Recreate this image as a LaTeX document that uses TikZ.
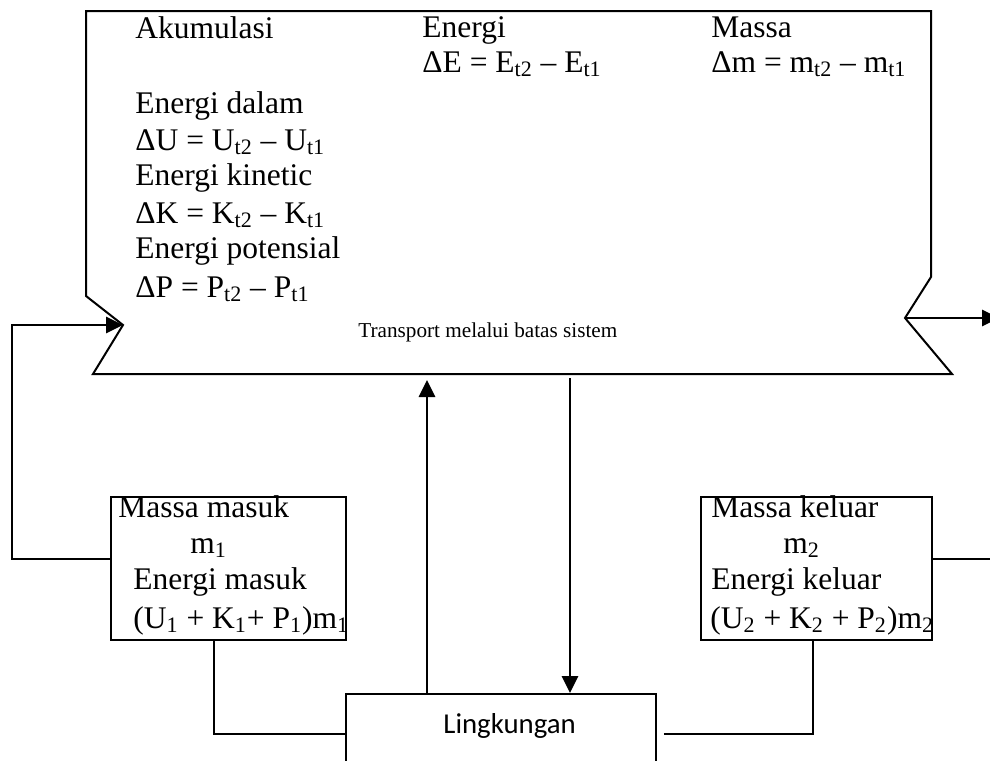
\documentclass[tikz,border=0pt]{standalone}
\usepackage{fontspec}
\setmainfont{Liberation Serif}
\newfontfamily\calibfont{Carlito}
\usetikzlibrary{arrows.meta,calc}
\newcommand\bigtxt{\fontsize{15.75}{18}\selectfont}
\newcommand\smalltxt{\fontsize{10.6}{12}\selectfont}
\newcommand\envtxt{\calibfont\fontsize{14.4}{17}\selectfont}
\begin{document}
\begin{tikzpicture}[x=0.5pt,y=-0.5pt,
  txt/.style={anchor=base west,inner sep=0pt,font=\bigtxt},
  sysline/.style={line width=1pt,line join=miter},
  boxst/.style={draw,line width=0.9pt,inner sep=0pt,anchor=north west},
  arr/.style={line width=1.4pt,-{Triangle[length=8.5pt,width=8pt]}},
  link/.style={line width=0.9pt}]
\path[use as bounding box] (0,0) rectangle (990,760);
\clip (0,0) rectangle (990,760);
% system boundary
\coordinate (ptl) at (86,11);
\coordinate (ptr) at (931,11);
\coordinate (pr1) at (931,277);
\coordinate (prn) at (905,318);
\coordinate (pbr) at (952,374);
\coordinate (pbl) at (93,374);
\coordinate (pln) at (123,325);
\coordinate (pl1) at (86,296);
\draw[sysline] (ptl) -- (ptr) -- (pr1) -- (prn) -- (pbr) -- (pbl) -- (pln) -- (pl1) -- cycle;
% texts inside
\node[txt] (akum) at (135,38) {Akumulasi};
\node[txt] (ed) at (135,113) {Energi dalam};
\node[txt] (du) at (135,150) {ΔU = U\textsubscript{t2} – U\textsubscript{t1}};
\node[txt] (ek) at (135,185) {Energi kinetic};
\node[txt] (dk) at (135,223) {ΔK = K\textsubscript{t2} – K\textsubscript{t1}};
\node[txt] (ep) at (135,258) {Energi potensial};
\node[txt] (dp) at (135,297) {ΔP = P\textsubscript{t2} – P\textsubscript{t1}};
\node[txt] (en) at (422,37) {Energi};
\node[txt] (de) at (422,72) {ΔE = E\textsubscript{t2} – E\textsubscript{t1}};
\node[txt] (ms) at (711,37) {Massa};
\node[txt] (dm) at (711,72) {Δm = m\textsubscript{t2} – m\textsubscript{t1}};
\node[txt,font=\smalltxt] (transp) at (358,337) {Transport melalui batas sistem};
% boxes
\node[boxst,minimum width=117.5pt,minimum height=71.5pt] (mm) at (110,496) {};
\node[boxst,minimum width=115.5pt,minimum height=71.5pt] (mk) at (700,496) {};
\node[boxst,minimum width=155pt,minimum height=50pt] (env) at (345,693) {};
\node[txt] (mm1) at (118,517) {Massa masuk};
\node[txt] (mm2) at (190,553) {m\textsubscript{1}};
\node[txt] (mm3) at (133,589) {Energi masuk};
\node[txt] (mm4) at (133,628) {(U\textsubscript{1} + K\textsubscript{1}+ P\textsubscript{1})m\textsubscript{1}};
\node[txt] (mk1) at (711,517) {Massa keluar};
\node[txt] (mk2) at (783,553) {m\textsubscript{2}};
\node[txt] (mk3) at (711,589) {Energi keluar};
\node[txt] (mk4) at (710,628) {(U\textsubscript{2} + K\textsubscript{2} + P\textsubscript{2})m\textsubscript{2}};
\node[txt,font=\envtxt] (envt) at (443,733) {Lingkungan};
% connectors
\coordinate (ym) at (0,559);
\coordinate (lft) at (12,559);
\coordinate (rout) at (999,318);
\coordinate (rend) at (990,559);
\draw[arr] (mm.west |- ym) -- (lft) -- (lft |- pln) -- (pln);
\draw[arr] (prn) -- (rout);
\draw[link] (mk.east |- ym) -- (rend);
\coordinate (up) at (427,380);
\coordinate (dn) at (570,378);
\draw[arr] (env.north -| up) -- (up);
\draw[arr] (dn) -- (env.north -| dn);
\coordinate (ly) at (0,734);
\coordinate (lx) at (214,0);
\coordinate (rx) at (813,0);
\coordinate (envr) at ([xshift=3.5pt]env.east);
\draw[link] (mm.south -| lx) -- (lx |- ly) -- (env.west |- ly);
\draw[link] (envr |- ly) -- (rx |- ly) -- (mk.south -| rx);
\end{tikzpicture}
\end{document}
